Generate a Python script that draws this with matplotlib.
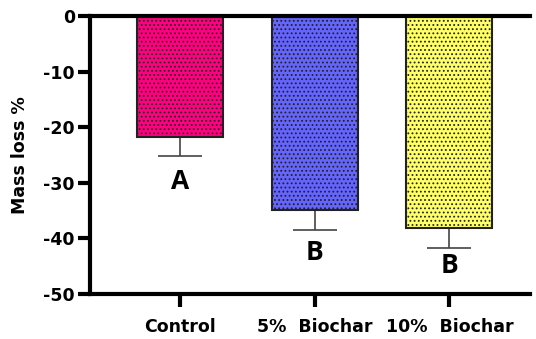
import matplotlib.pyplot as plt
import numpy as np

plt.rcParams['hatch.linewidth'] = 0.8

# dados
grupos = ['Control', '5%  Biochar', '10%  Biochar']
perda_massa = [-21.8, -34.9, -38.1]
erro = [3.4, 3.6, 3.6]
letras = ['A', 'B', 'B']
letras_y = [-27.4, -40.2, -42.4]
cores = ['#FF0080', '#6464FF', '#FFFF66']
y_ticks = [0, -10, -20, -30, -40, -50]

fig = plt.figure(figsize=(5.36, 3.39), dpi=100)
ax = fig.add_axes([0.168, 0.133, 0.821, 0.82])

x = np.arange(len(grupos))
ax.bar(x, perda_massa, width=0.64, color=cores, edgecolor='#222222',
       linewidth=1.5, hatch='....', zorder=2)
ax.errorbar(x, perda_massa, yerr=[erro, [0, 0, 0]], fmt='none', ecolor='#444444',
            elinewidth=1.2, capsize=16, capthick=1.2, zorder=1)

# letras de significancia
for xi, yl, l in zip(x, letras_y, letras):
    ax.text(xi, yl, l, ha='center', va='top', fontsize=19,
            fontweight='bold', family='Open Sans')

fonte = dict(fontsize=12.5, fontweight='bold', family='DejaVu Sans')
ax.set_xlim(-0.67, 2.6)
ax.set_ylim(-50, 0)
ax.set_yticks(y_ticks)
ax.set_xticks(x)
ax.set_xticklabels(grupos, **fonte)
ax.set_yticklabels([str(t) for t in y_ticks], **fonte)
ax.set_ylabel('Mass loss %', labelpad=10, **fonte)

for lado in ['left', 'bottom', 'top']:
    ax.spines[lado].set_linewidth(3)
ax.spines['right'].set_visible(False)
ax.tick_params(width=3, length=9)
ax.tick_params(axis='x', pad=8)
ax.tick_params(axis='y', pad=2)

fig.savefig('out.png', dpi=100)
